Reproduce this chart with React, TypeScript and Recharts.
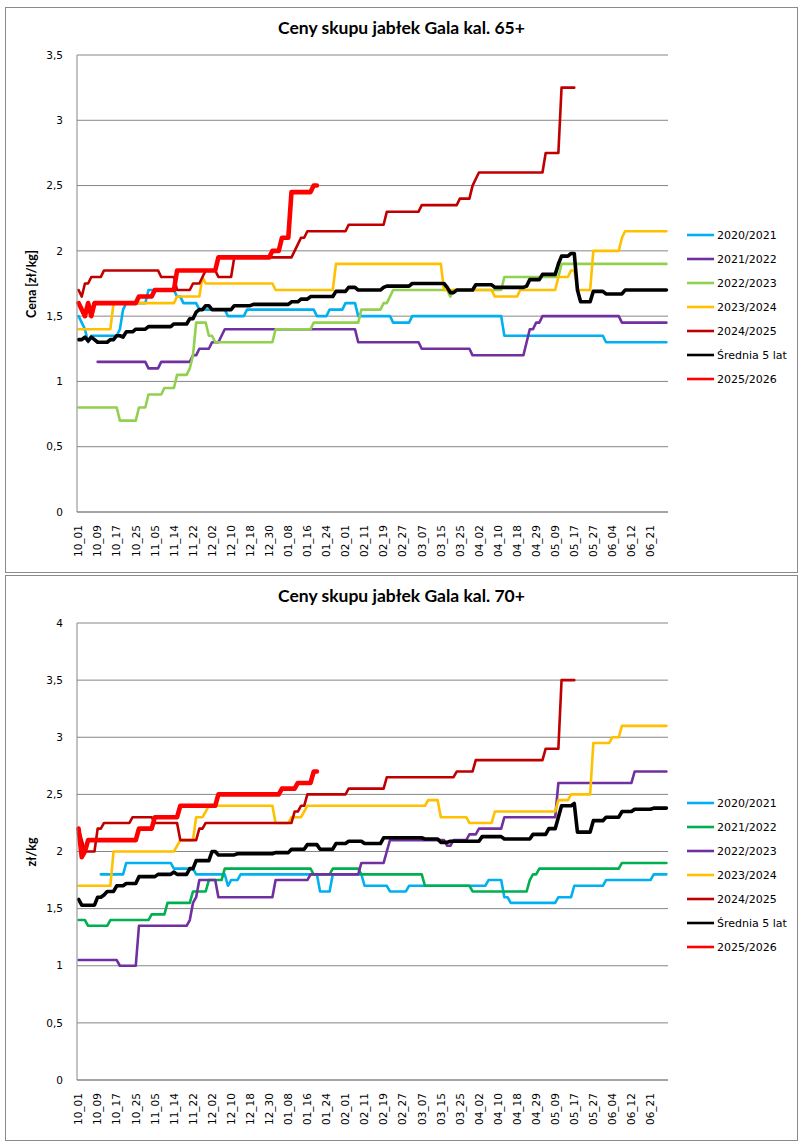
import React from "react";
import { LineChart, Line, XAxis, YAxis, CartesianGrid, Legend } from "recharts";

// x categories: one per working day, a label every 6th day
const xLabels = [
  "10_01", "10_09", "10_17", "10_25", "11_05", "11_14", "11_22", "12_02", "12_10", "12_18",
  "12_30", "01_08", "01_16", "01_24", "02_01", "02_11", "02_19", "02_27", "03_07", "03_15",
  "03_25", "04_02", "04_10", "04_18", "04_29", "05_09", "05_17", "05_27", "06_04", "06_12", "06_21",
];
const xTicks = xLabels.map((_, k) => k * 6);
const yTicks65 = [0, 0.5, 1, 1.5, 2, 2.5, 3, 3.5];
const yTicks70 = [0, 0.5, 1, 1.5, 2, 2.5, 3, 3.5, 4];

// price steps as [day index, zł/kg] — value holds until the next entry
// kal. 65+
const g65_2020 = [[0, 1.5], [1, 1.45], [2, 1.4], [3, 1.3], [4, 1.35], [13, 1.4], [14, 1.55], [15, 1.6], [22, 1.7], [31, 1.65], [33, 1.6], [38, 1.55], [47, 1.5], [53, 1.55], [75, 1.5], [79, 1.55], [84, 1.6], [88, 1.5], [99, 1.45], [105, 1.5], [134, 1.35], [166, 1.3], [185, 1.3]];
const g65_2021 = [[6, 1.15], [22, 1.1], [26, 1.15], [36, 1.2], [38, 1.25], [42, 1.3], [45, 1.35], [46, 1.4], [88, 1.3], [108, 1.25], [124, 1.2], [141, 1.3], [142, 1.4], [144, 1.45], [146, 1.5], [171, 1.45], [185, 1.45]];
const g65_2022 = [[0, 0.8], [13, 0.7], [19, 0.8], [22, 0.9], [27, 0.95], [31, 1.05], [35, 1.1], [36, 1.2], [37, 1.45], [41, 1.35], [43, 1.3], [62, 1.4], [74, 1.45], [89, 1.55], [96, 1.6], [98, 1.65], [99, 1.7], [117, 1.65], [118, 1.7], [134, 1.8], [152, 1.9], [185, 1.9]];
const g65_2023 = [[0, 1.4], [11, 1.6], [31, 1.65], [39, 1.8], [40, 1.75], [62, 1.7], [81, 1.9], [115, 1.7], [131, 1.65], [139, 1.7], [151, 1.8], [155, 1.85], [157, 1.7], [162, 2.0], [171, 2.1], [172, 2.15], [185, 2.15]];
const g65_2024 = [[0, 1.7], [1, 1.65], [2, 1.75], [4, 1.8], [8, 1.85], [26, 1.8], [31, 1.7], [36, 1.75], [39, 1.8], [40, 1.85], [44, 1.8], [49, 1.95], [68, 2.0], [69, 2.05], [70, 2.1], [72, 2.15], [85, 2.2], [97, 2.3], [108, 2.35], [120, 2.4], [124, 2.5], [125, 2.55], [126, 2.6], [147, 2.75], [152, 3.25], [156, 3.25]];
const g65_avg = [[0, 1.32], [2, 1.34], [3, 1.31], [4, 1.34], [5, 1.32], [6, 1.3], [10, 1.32], [12, 1.35], [14, 1.34], [15, 1.38], [18, 1.4], [22, 1.42], [30, 1.44], [35, 1.48], [37, 1.53], [38, 1.55], [40, 1.58], [42, 1.55], [49, 1.58], [55, 1.59], [67, 1.61], [70, 1.63], [73, 1.65], [81, 1.69], [85, 1.72], [88, 1.7], [96, 1.72], [97, 1.73], [105, 1.75], [116, 1.72], [117, 1.68], [119, 1.7], [125, 1.74], [131, 1.72], [141, 1.73], [142, 1.78], [146, 1.82], [151, 1.9], [152, 1.96], [155, 1.98], [157, 1.7], [158, 1.61], [162, 1.69], [166, 1.67], [172, 1.7], [185, 1.7]];
const g65_2025 = [[0, 1.6], [1, 1.55], [2, 1.5], [3, 1.6], [4, 1.5], [5, 1.6], [19, 1.65], [24, 1.7], [31, 1.85], [44, 1.95], [61, 2.0], [64, 2.1], [67, 2.45], [74, 2.5], [75, 2.5]];

// kal. 70+
const g70_2020 = [[7, 1.8], [15, 1.9], [30, 1.85], [37, 1.8], [47, 1.7], [48, 1.75], [51, 1.8], [76, 1.65], [80, 1.8], [90, 1.7], [98, 1.65], [104, 1.7], [129, 1.75], [134, 1.6], [136, 1.55], [151, 1.6], [156, 1.7], [166, 1.75], [181, 1.8], [185, 1.8]];
const g70_2021 = [[0, 1.4], [3, 1.35], [10, 1.4], [23, 1.45], [28, 1.55], [36, 1.65], [41, 1.75], [46, 1.85], [74, 1.8], [80, 1.85], [89, 1.8], [109, 1.7], [124, 1.65], [142, 1.75], [143, 1.8], [145, 1.85], [171, 1.9], [185, 1.9]];
const g70_2022 = [[0, 1.05], [13, 1.0], [19, 1.35], [35, 1.4], [36, 1.55], [37, 1.6], [38, 1.75], [44, 1.6], [62, 1.75], [73, 1.8], [89, 1.9], [97, 2.0], [98, 2.1], [116, 2.05], [118, 2.1], [123, 2.15], [126, 2.2], [134, 2.3], [151, 2.6], [175, 2.7], [185, 2.7]];
const g70_2023 = [[0, 1.7], [11, 2.0], [31, 2.05], [32, 2.1], [37, 2.3], [40, 2.35], [41, 2.4], [62, 2.25], [67, 2.3], [71, 2.35], [72, 2.4], [110, 2.45], [114, 2.3], [123, 2.25], [131, 2.35], [151, 2.45], [155, 2.5], [162, 2.95], [168, 3.0], [171, 3.1], [185, 3.1]];
const g70_2024 = [[0, 2.2], [1, 2.1], [2, 2.0], [6, 2.2], [8, 2.25], [17, 2.3], [24, 2.25], [32, 2.1], [38, 2.2], [40, 2.25], [68, 2.35], [70, 2.4], [72, 2.5], [85, 2.55], [97, 2.65], [119, 2.7], [125, 2.8], [147, 2.9], [152, 3.5], [156, 3.5]];
const g70_avg = [[0, 1.58], [1, 1.53], [6, 1.6], [8, 1.62], [9, 1.65], [12, 1.7], [15, 1.72], [19, 1.78], [25, 1.8], [30, 1.82], [31, 1.8], [35, 1.85], [37, 1.92], [42, 2.0], [44, 1.97], [50, 1.98], [62, 1.99], [67, 2.02], [72, 2.06], [76, 2.02], [81, 2.07], [85, 2.09], [90, 2.07], [96, 2.12], [109, 2.11], [114, 2.08], [117, 2.09], [127, 2.13], [134, 2.11], [143, 2.15], [148, 2.2], [151, 2.3], [152, 2.4], [156, 2.42], [157, 2.17], [162, 2.27], [166, 2.3], [171, 2.35], [175, 2.37], [181, 2.38], [185, 2.38]];
const g70_2025 = [[0, 2.2], [1, 1.95], [2, 2.0], [3, 2.1], [19, 2.2], [24, 2.3], [32, 2.4], [44, 2.5], [64, 2.55], [69, 2.6], [74, 2.7], [75, 2.7]];

const FONT = "'DejaVu Sans', sans-serif";
const TITLE_FONT = "Lato, 'Noto Sans', sans-serif";
const GRID = "#868686";

type Series = { name: string; color: string; width: number; steps: number[][] };

const series65: Series[] = [
  { name: "2020/2021", color: "#00B0F0", width: 2.6, steps: g65_2020 },
  { name: "2021/2022", color: "#7030A0", width: 2.6, steps: g65_2021 },
  { name: "2022/2023", color: "#92D050", width: 2.6, steps: g65_2022 },
  { name: "2023/2024", color: "#FFC000", width: 2.6, steps: g65_2023 },
  { name: "2024/2025", color: "#C00000", width: 2.6, steps: g65_2024 },
  { name: "Średnia 5 lat", color: "#000000", width: 3.6, steps: g65_avg },
  { name: "2025/2026", color: "#FF0000", width: 4.6, steps: g65_2025 },
];

const series70: Series[] = [
  { name: "2020/2021", color: "#00B0F0", width: 2.6, steps: g70_2020 },
  { name: "2021/2022", color: "#00B050", width: 2.6, steps: g70_2021 },
  { name: "2022/2023", color: "#7030A0", width: 2.6, steps: g70_2022 },
  { name: "2023/2024", color: "#FFC000", width: 2.6, steps: g70_2023 },
  { name: "2024/2025", color: "#C00000", width: 2.6, steps: g70_2024 },
  { name: "Średnia 5 lat", color: "#000000", width: 3.6, steps: g70_avg },
  { name: "2025/2026", color: "#FF0000", width: 4.6, steps: g70_2025 },
];

// step list -> points; a hold point right before each change gives the one-day slope of the original
function expand(steps: number[][]) {
  const pts: { i: number; v: number }[] = [];
  steps.forEach(([i, v], k) => {
    if (k > 0) {
      const [pi, pv] = steps[k - 1];
      if (i - 1 > pi && v !== pv) pts.push({ i: i - 1, v: pv });
    }
    pts.push({ i, v });
  });
  return pts;
}

const fmtY = (v: number) => String(v).replace(".", ",");

const XTick = (props: any) => {
  const { x, y, payload } = props;
  const label = xLabels[Math.round(payload.value / 6)];
  return (
    <text
      x={x}
      y={y}
      dy="0.36em"
      textAnchor="end"
      transform={`rotate(-90 ${x} ${y})`}
      fontSize={10.5}
      fontFamily={FONT}
      fill="#000"
    >
      {label}
    </text>
  );
};

const W = 793;
const H = 566;
const M = { top: 48, right: 130, bottom: 11, left: 22 };

function Panel({ top, title, yLabel, yMax, yTicks, series }: {
  top: number; title: string; yLabel: string; yMax: number; yTicks: number[]; series: Series[];
}) {
  const plotMid = M.top + (H - M.top - M.bottom - 50) / 2;
  return (
    <div style={{ position: "absolute", left: 5, top, width: W, height: H, background: "#fff" }}>
      <LineChart width={W} height={H} margin={M}>
        <CartesianGrid vertical={false} stroke={GRID} strokeWidth={1} />
        <XAxis
          type="number"
          dataKey="i"
          domain={[-0.5, 185.5]}
          ticks={xTicks}
          interval={0}
          tick={<XTick />}
          tickLine={false}
          tickSize={0}
          tickMargin={13}
          height={50}
          axisLine={{ stroke: GRID }}
        />
        <YAxis
          type="number"
          domain={[0, yMax]}
          ticks={yTicks}
          interval={0}
          width={50}
          tickFormatter={fmtY}
          tickLine={false}
          tickSize={0}
          tickMargin={14}
          axisLine={{ stroke: GRID }}
          tick={{ fontSize: 10.5, fill: "#000", fontFamily: FONT }}
        />
        <Legend
          layout="vertical"
          align="center"
          verticalAlign="middle"
          wrapperStyle={{ left: 682, top: 216, width: 110 }}
          content={() => (
            <div style={{ fontFamily: FONT, fontSize: 11, color: "#000" }}>
              {series.map((s) => (
                <div key={s.name} style={{ display: "flex", alignItems: "center", height: 24 }}>
                  <svg width={30} height={10} style={{ flex: "none" }}>
                    <line x1={0} x2={27} y1={5} y2={5} stroke={s.color} strokeWidth={2.6} />
                  </svg>
                  <span style={{ whiteSpace: "nowrap" }}>{s.name}</span>
                </div>
              ))}
            </div>
          )}
        />
        {series.map((s) => (
          <Line
            key={s.name}
            name={s.name}
            data={expand(s.steps)}
            dataKey="v"
            type="linear"
            stroke={s.color}
            strokeWidth={s.width}
            strokeLinejoin="round"
            strokeLinecap="round"
            dot={false}
            activeDot={false}
            isAnimationActive={false}
          />
        ))}
      </LineChart>
      <div
        style={{
          position: "absolute", left: 0, width: W, top: 10, textAlign: "center",
          fontFamily: TITLE_FONT, fontWeight: 700, fontSize: 17.5, lineHeight: "22px", color: "#000",
        }}
      >
        {title}
      </div>
      <div
        style={{
          position: "absolute", left: 26, top: plotMid, transform: "translate(-50%, -50%) rotate(-90deg)",
          fontFamily: TITLE_FONT, fontWeight: 700, fontSize: 12.5, whiteSpace: "nowrap", color: "#000",
        }}
      >
        {yLabel}
      </div>
      <div
        style={{
          position: "absolute", left: 0, top: 0, width: W, height: H, boxSizing: "border-box",
          border: "1.5px solid #8a8a8a", pointerEvents: "none",
        }}
      />
    </div>
  );
}

export default function App() {
  return (
    <div style={{ position: "absolute", left: 0, top: 0, width: 803, height: 1147, background: "#fff" }}>
      <Panel top={7} title="Ceny skupu jabłek Gala kal. 65+" yLabel="Cena [zł/kg]" yMax={3.5} yTicks={yTicks65} series={series65} />
      <Panel top={575} title="Ceny skupu jabłek Gala kal. 70+" yLabel="zł/kg" yMax={4} yTicks={yTicks70} series={series70} />
    </div>
  );
}
